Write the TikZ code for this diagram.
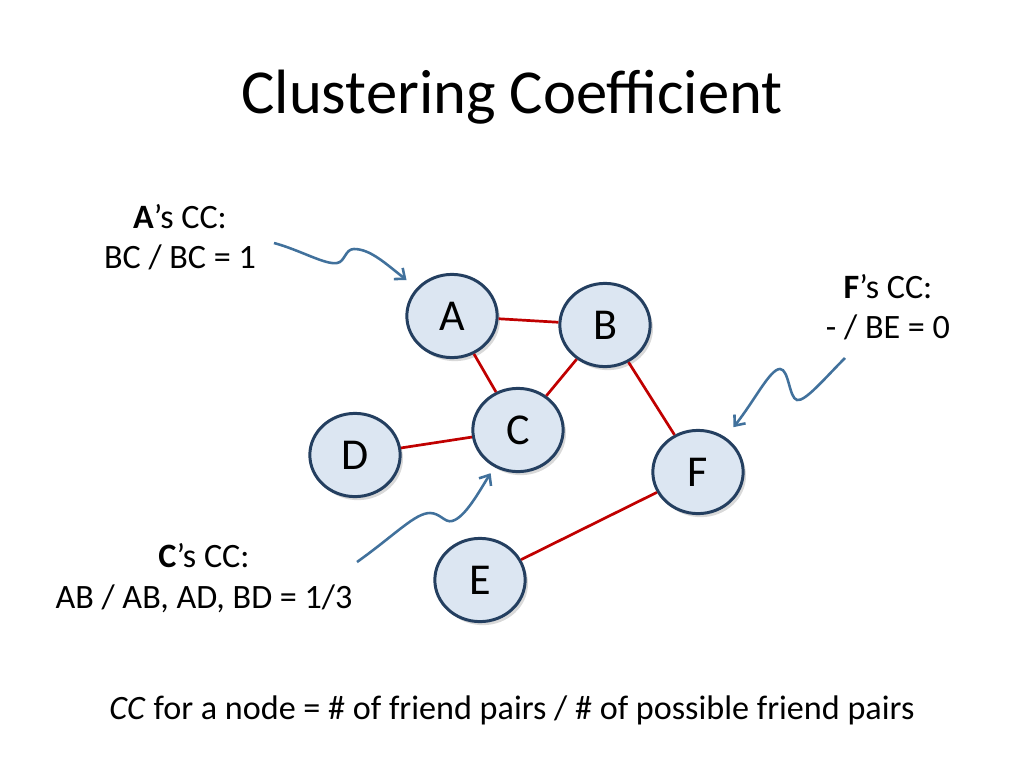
\documentclass[tikz,border=0pt]{standalone}
\usepackage{fontspec}
\setmainfont{Carlito}
\usetikzlibrary{arrows.meta,shapes.geometric,shadows}
\definecolor{nodefill}{RGB}{220,230,242}
\definecolor{nodeline}{RGB}{36,63,96}
\definecolor{tiered}{RGB}{192,0,0}
\definecolor{callblue}{RGB}{65,113,156}

\begin{document}
\begin{tikzpicture}[x=0.703pt, y=-0.703pt,
    friend/.style={ellipse, draw=nodeline, line width=2.1pt, fill=nodefill,
        minimum width=63.5pt, minimum height=58.5pt, inner sep=0pt,
        font=\fontsize{31}{36}\selectfont,
        drop shadow={shadow xshift=2pt, shadow yshift=-2.5pt, opacity=0.3}},
    tie/.style={tiered, line width=1.9pt},
    pointer/.style={callblue, line width=1.8pt, -{Straight Barb[length=6pt,width=10pt]}},
    note/.style={align=center, font=\fontsize{24}{28.5}\selectfont}]
    \useasboundingbox (0,0) rectangle (1024,768);

    % Title
    \node[font=\fontsize{44}{52}\selectfont] (title) at (512,97) {Clustering Coefficient};

    % Friends
    \node[friend] (A) at (452,316) {A};
    \node[friend] (B) at (605,325) {B};
    \node[friend] (C) at (518,430) {C};
    \node[friend] (D) at (355,455) {D};
    \node[friend] (F) at (698,472) {F};
    \node[friend] (E) at (480,580) {E};

    % Friendships
    \draw[tie] (A) -- (B);
    \draw[tie] (A) -- (C);
    \draw[tie] (B) -- (C);
    \draw[tie] (C) -- (D);
    \draw[tie] (B) -- (F);
    \draw[tie] (F) -- (E);

    % Notes
    \node[note] (noteA) at (180,237) {\textbf{A}’s CC:\\BC / BC = 1};
    \node[note] (noteF) at (888,307) {\textbf{F}’s CC:\\- / BE = 0};
    \node[note] (noteC) at (204,578) {\textbf{C}’s CC:\\AB / AB, AD, BD = 1/3};

    % Pointers from notes to nodes
    \coordinate (sA) at (274,243);
    \coordinate (sF) at (845,358);
    \coordinate (sC) at (357,562);
    \draw[pointer, shorten >=9pt] (sA) .. controls (300,250) and (325,265) .. (337,263)
        .. controls (345,262) and (345,249) .. (354,249)
        .. controls (370,249) and (385,263) .. (A);
    \draw[pointer, shorten >=9pt] (sF) .. controls (825,378) and (805,402) .. (797,400)
        .. controls (789,398) and (789,369) .. (780,369)
        .. controls (770,369) and (755,400) .. (F);
    \draw[pointer, shorten >=5pt] (sC) .. controls (395,535) and (415,513) .. (430,513)
        .. controls (440,513) and (445,523) .. (452,521)
        .. controls (465,518) and (480,490) .. (C);

    % Definition
    \node[note] (defn) at (512,710) {\textit{CC} for a node = \# of friend pairs / \# of possible friend pairs};
\end{tikzpicture}
\end{document}
